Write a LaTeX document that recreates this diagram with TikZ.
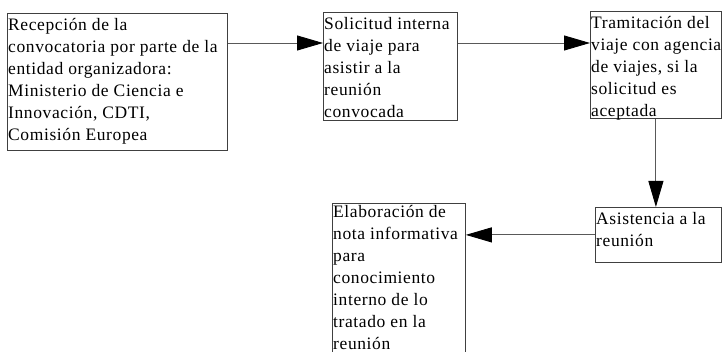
\documentclass[tikz,border=0pt]{standalone}
\usepackage{fontspec}
\setmainfont[LetterSpace=3.5]{Liberation Serif}
\usetikzlibrary{arrows.meta}

\begin{document}
\begin{tikzpicture}[x=1pt,y=-1pt,
        box/.style={draw=black!75, line width=0.8pt, anchor=north west, inner sep=0pt},
        txt/.style={anchor=north west, align=left, inner xsep=1pt, inner ysep=5pt,
            font=\fontsize{17.5}{22}\selectfont},
        conn/.style={draw=black!65, line width=0.9pt, -{Triangle[length=26pt,width=15pt,color=black]}}]

        \useasboundingbox (0,0) rectangle (722,352);

        \node[box, minimum width=220pt, minimum height=137pt] (recep) at (7,13) {};
        \node[box, minimum width=134pt, minimum height=108pt] (solic) at (323,12) {};
        \node[box, minimum width=131pt, minimum height=107pt] (tram) at (590,11) {};
        \node[box, minimum width=126pt, minimum height=55pt] (asist) at (595,207) {};
        \node[box, minimum width=133pt, minimum height=160pt] (nota) at (332,203) {};

        \node[txt] (recep-t) at (recep.north west) {Recepción de la\\convocatoria por parte de la\\entidad organizadora:\\Ministerio de Ciencia e\\Innovación, CDTI,\\Comisión Europea};
        \node[txt] (solic-t) at (solic.north west) {Solicitud interna\\de viaje para\\asistir a la\\reunión\\convocada};
        \node[txt] (tram-t) at (tram.north west) {Tramitación del\\viaje con agencia\\de viajes, si la\\solicitud es\\aceptada};
        \node[txt] (asist-t) at (asist.north west) {Asistencia a la\\reunión};
        \node[txt, inner ysep=0pt, yshift=-2pt] (nota-t) at (nota.north west) {Elaboración de\\nota informativa\\para\\conocimiento\\interno de lo\\tratado en la\\reunión};

        \draw[conn] ([yshift=-30pt]recep.north east) -- ([yshift=-31pt]solic.north west);
        \draw[conn] ([yshift=-31pt]solic.north east) -- ([yshift=-32pt]tram.north west);
        \draw[conn] (tram.south) -- (tram.south |- asist.north);
        \draw[conn] (asist.west) -- (nota.east |- asist.west);

\end{tikzpicture}
\end{document}
